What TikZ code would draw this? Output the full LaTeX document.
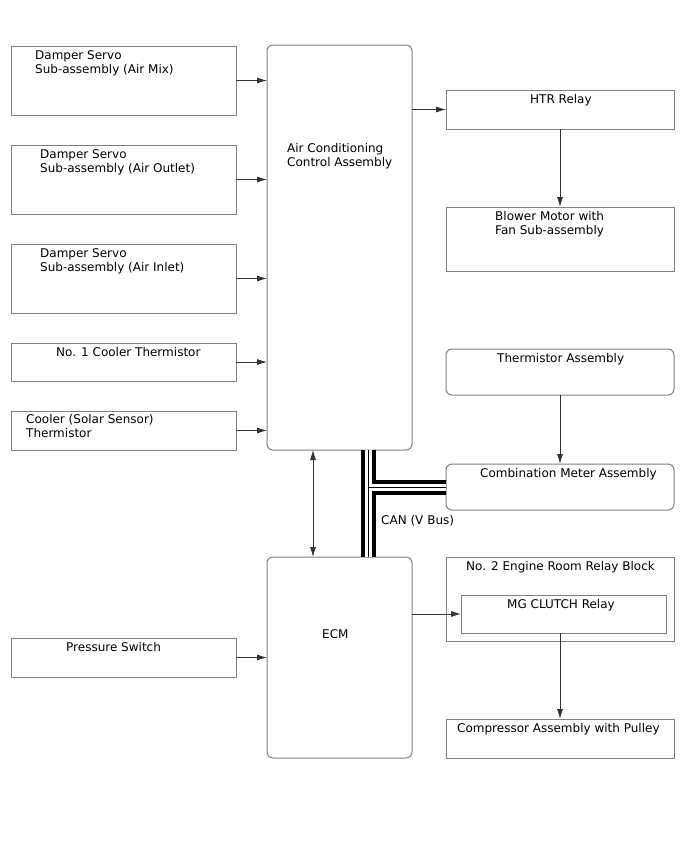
\documentclass[tikz,border=0pt]{standalone}
\usepackage{fontspec}
\setmainfont{DejaVu Sans}
\usetikzlibrary{arrows.meta, positioning, fit}
\definecolor{boxgray}{RGB}{128,128,128}

\begin{document}
\begin{tikzpicture}[x=1pt, y=-1pt,
                    unit_box/.style={draw=boxgray, line width=1pt, inner sep=0pt, outer sep=0pt},
                    round_box/.style={unit_box, rounded corners=6pt},
                    label_text/.style={anchor=north west, inner sep=0pt, align=left, font=\fontsize{12}{14}\selectfont},
                    signal/.style={draw=black!80, line width=0.8pt, -{Latex[length=10pt, width=6pt]}},
                    both_signal/.style={signal, {Latex[length=10pt, width=6pt]}-{Latex[length=10pt, width=6pt]}}
                ]
                    \useasboundingbox (0,0) rectangle (688,852);

                    % inputs
                    \node[unit_box, fit={(11,46) (236,115)}] (air_mix) {};
                    \node[unit_box, fit={(11,145) (236,214)}] (air_outlet) {};
                    \node[unit_box, fit={(11,244) (236,313)}] (air_inlet) {};
                    \node[unit_box, fit={(11,343) (236,381)}] (cooler_th) {};
                    \node[unit_box, fit={(11,411) (236,450)}] (solar_th) {};
                    \node[unit_box, fit={(11,638) (236,677)}] (pressure) {};

                    \node[label_text] (air_mix_txt) at (35,50) {Damper Servo\\Sub-assembly (Air Mix)};
                    \node[label_text] (air_outlet_txt) at (40,149) {Damper Servo\\Sub-assembly (Air Outlet)};
                    \node[label_text] (air_inlet_txt) at (40,248) {Damper Servo\\Sub-assembly (Air Inlet)};
                    \node[label_text] (cooler_th_txt) at (56,347) {No. 1 Cooler Thermistor};
                    \node[label_text] (solar_th_txt) at (26,414) {Cooler (Solar Sensor)\\Thermistor};
                    \node[label_text] (pressure_txt) at (66,642) {Pressure Switch};

                    % control units
                    \node[round_box, fit={(267,45) (412,450)}] (ac_amp) {};
                    \node[round_box, fit={(267,557) (412,758)}] (ecm) {};

                    \node[label_text] (ac_amp_txt) at (287,143) {Air Conditioning\\Control Assembly};
                    \node[label_text] (ecm_txt) at (322,629) {ECM};

                    % outputs
                    \node[unit_box, fit={(446,90) (674,129)}] (htr) {};
                    \node[unit_box, fit={(446,207) (674,271)}] (blower) {};
                    \node[round_box, fit={(446,349) (674,395)}] (th_assy) {};
                    \node[round_box, fit={(446,464) (674,510)}] (meter) {};
                    \node[unit_box, fit={(446,557) (674,641)}] (relay_block) {};
                    \node[unit_box, fit={(461,595) (666,633)}] (mg_relay) {};
                    \node[unit_box, fit={(446,719) (674,758)}] (compressor) {};

                    \node[label_text] (htr_txt) at (530,94) {HTR Relay};
                    \node[label_text] (blower_txt) at (495,211) {Blower Motor with\\Fan Sub-assembly};
                    \node[label_text] (th_assy_txt) at (497,353) {Thermistor Assembly};
                    \node[label_text] (meter_txt) at (480,468) {Combination Meter Assembly};
                    \node[label_text] (relay_block_txt) at (466,561) {No. 2 Engine Room Relay Block};
                    \node[label_text] (mg_relay_txt) at (507,599) {MG CLUTCH Relay};
                    \node[label_text] (compressor_txt) at (457,723) {Compressor Assembly with Pulley};

                    % signals
                    \draw[signal] (air_mix.east) -- (air_mix.east -| ac_amp.west);
                    \draw[signal] (air_outlet.east) -- (air_outlet.east -| ac_amp.west);
                    \draw[signal] (air_inlet.east) -- (air_inlet.east -| ac_amp.west);
                    \draw[signal] (cooler_th.east) -- (cooler_th.east -| ac_amp.west);
                    \draw[signal] (solar_th.east) -- (solar_th.east -| ac_amp.west);
                    \draw[signal] (pressure.east) -- (pressure.east -| ecm.west);
                    \draw[signal] (ac_amp.east |- htr.west) -- (htr.west);
                    \draw[signal] (htr.south) -- (blower.north);
                    \draw[signal] (th_assy.south) -- (meter.north);
                    \draw[signal] (ecm.east |- mg_relay.west) -- (mg_relay.west);
                    \draw[signal] (compressor.north |- mg_relay.south) -- (compressor.north);

                    \coordinate (ecm_link) at (313,500);
                    \draw[both_signal] (ac_amp.south -| ecm_link) -- (ecm.north -| ecm_link);

                    % CAN bus
                    \coordinate (can_tee) at (368.5,487);
                    \foreach \w/\c in {15pt/black, 7pt/white, 1pt/black}
                        \draw[line width=\w, draw=\c] (ac_amp.south -| can_tee) -- (ecm.north -| can_tee)
                                                      (can_tee) -- (meter.west);
                    \node[label_text] (can_txt) at (381,515) {CAN (V Bus)};
                \end{tikzpicture}
\end{document}
